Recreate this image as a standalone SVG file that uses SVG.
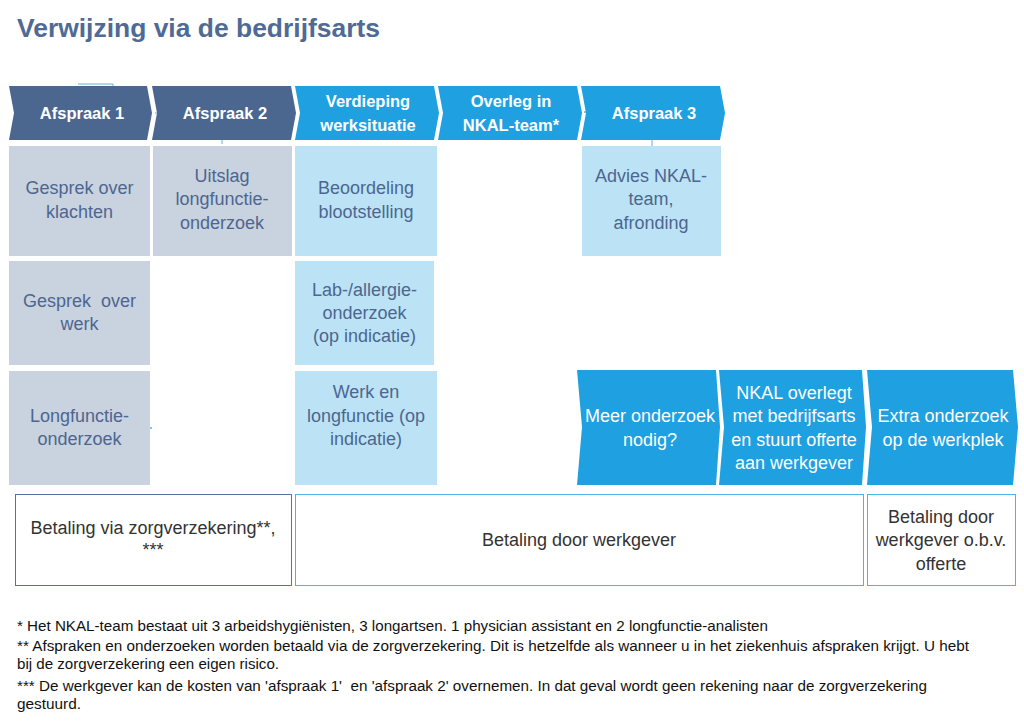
<svg xmlns="http://www.w3.org/2000/svg" width="1024" height="725" viewBox="0 0 1024 725">
<style>
.title{font-family:"Liberation Sans",Arial,sans-serif;font-weight:bold;font-size:26px;fill:#4f6a95}
.dark{fill:#4b6790}
.blue{fill:#1ea0e1}
.gray{fill:#c9d2df}
.light{fill:#bbe3f5}
.hd{font-family:"Liberation Sans",Arial,sans-serif;font-weight:bold;font-size:16.5px;fill:#ffffff;text-anchor:middle}
.bx{font-family:"Liberation Sans",Arial,sans-serif;font-size:18px;fill:#4d6690;text-anchor:middle}
.wt{font-family:"Liberation Sans",Arial,sans-serif;font-size:18px;fill:#ffffff;text-anchor:middle}
.pay{font-family:"Liberation Sans",Arial,sans-serif;font-size:18px;fill:#333333;text-anchor:middle}
.fn{font-family:"Liberation Sans",Arial,sans-serif;font-size:14px;fill:#111111}
.conn{fill:none;stroke:#5ab4e5;stroke-width:1}
</style>
<rect width="1024" height="725" fill="#ffffff"/>
<text class="title" x="17" y="37" textLength="363" lengthAdjust="spacingAndGlyphs">Verwijzing via de bedrijfsarts</text>

<g id="connectors">
<polyline class="conn" points="78,84 113,84 113,87"/>
<polyline class="conn" points="155,113 222,113 222,144"/>
<line class="conn" x1="652" y1="123" x2="652" y2="146"/>
<circle cx="585" cy="112" r="1" fill="#5ab4e5"/>
<circle cx="151" cy="428" r="1" fill="#5ab4e5"/>
</g>

<g id="afspraak1">
<polygon class="dark" points="9,86 147,86 152,113 147,140 9,140 14,113"/>
<text class="hd" x="82" y="119">Afspraak 1</text>
</g>
<g id="afspraak2">
<polygon class="dark" points="152,86 291,86 296,113 291,140 152,140 157,113"/>
<text class="hd" x="225" y="119">Afspraak 2</text>
</g>
<g id="verdieping">
<polygon class="blue" points="295,86 434,86 439,113 434,140 295,140 300,113"/>
<text class="hd" x="368" y="107">Verdieping</text>
<text class="hd" x="368" y="131">werksituatie</text>
</g>
<g id="overleg">
<polygon class="blue" points="438,86 577,86 582,113 577,140 438,140 443,113"/>
<text class="hd" x="511" y="107">Overleg in</text>
<text class="hd" x="511" y="131">NKAL-team*</text>
</g>
<g id="afspraak3">
<polygon class="blue" points="581,86 720,86 725,113 720,140 581,140 586,113"/>
<text class="hd" x="654" y="119">Afspraak 3</text>
</g>

<g id="gesprek-klachten">
<rect class="gray" x="9" y="146" width="141" height="110"/>
<text class="bx" x="79.5" y="194">Gesprek over</text>
<text class="bx" x="79.5" y="218">klachten</text>
</g>
<g id="uitslag">
<rect class="gray" x="153" y="146" width="139" height="110"/>
<text class="bx" x="222" y="182">Uitslag</text>
<text class="bx" x="222" y="205">longfunctie-</text>
<text class="bx" x="222" y="229">onderzoek</text>
</g>
<g id="beoordeling">
<rect class="light" x="295" y="146" width="142" height="110"/>
<text class="bx" x="366" y="194">Beoordeling</text>
<text class="bx" x="366" y="218">blootstelling</text>
</g>
<g id="advies">
<rect class="light" x="582" y="146" width="139" height="110"/>
<text class="bx" x="651" y="182">Advies NKAL-</text>
<text class="bx" x="651" y="205">team,</text>
<text class="bx" x="651" y="229">afronding</text>
</g>

<g id="gesprek-werk">
<rect class="gray" x="9" y="261" width="141" height="104"/>
<text class="bx" x="79.5" y="307" xml:space="preserve">Gesprek  over</text>
<text class="bx" x="79.5" y="330">werk</text>
</g>
<g id="lab">
<rect class="light" x="295" y="261" width="139" height="104"/>
<text class="bx" x="364.5" y="296">Lab-/allergie-</text>
<text class="bx" x="364.5" y="319">onderzoek</text>
<text class="bx" x="364.5" y="342">(op indicatie)</text>
</g>

<g id="longfunctie">
<rect class="gray" x="9" y="371" width="141" height="114"/>
<text class="bx" x="79.5" y="422">Longfunctie-</text>
<text class="bx" x="79.5" y="445">onderzoek</text>
</g>
<g id="werk-longfunctie">
<rect class="light" x="295" y="371" width="142" height="114"/>
<text class="bx" x="366" y="398">Werk en</text>
<text class="bx" x="366" y="422">longfunctie (op</text>
<text class="bx" x="366" y="445">indicatie)</text>
</g>

<g id="meer-onderzoek">
<polygon class="blue" points="577,370 716,370 720,427 716,485 577,485 582,427"/>
<text class="wt" x="650" y="422">Meer onderzoek</text>
<text class="wt" x="650" y="446">nodig?</text>
</g>
<g id="nkal-overlegt">
<polygon class="blue" points="719,370 862,370 866,427 862,485 719,485 724,427"/>
<text class="wt" x="794" y="399">NKAL overlegt</text>
<text class="wt" x="794" y="422">met bedrijfsarts</text>
<text class="wt" x="794" y="446">en stuurt offerte</text>
<text class="wt" x="794" y="469">aan werkgever</text>
</g>
<g id="extra-onderzoek">
<polygon class="blue" points="867,370 1013,370 1018,427 1013,485 867,485 872,427"/>
<text class="wt" x="943" y="422">Extra onderzoek</text>
<text class="wt" x="943" y="446">op de werkplek</text>
</g>

<g id="betaling-zorg">
<rect x="15.5" y="494.5" width="276" height="91" fill="#ffffff" stroke="#5b719a" stroke-width="1"/>
<text class="pay" x="153" y="534">Betaling via zorgverzekering**,</text>
<text class="pay" x="153" y="556">***</text>
</g>
<g id="betaling-werkgever">
<rect x="295.5" y="494.5" width="568" height="91" fill="#ffffff" stroke="#4fb3e8" stroke-width="1"/>
<text class="pay" x="579" y="546">Betaling door werkgever</text>
</g>
<g id="betaling-offerte">
<rect x="867.5" y="494.5" width="148" height="91" fill="#ffffff" stroke="#4fb3e8" stroke-width="1"/>
<text class="pay" x="941" y="523">Betaling door</text>
<text class="pay" x="941" y="546">werkgever o.b.v.</text>
<text class="pay" x="941" y="570">offerte</text>
</g>

<g id="footnotes">
<text class="fn" x="17" y="631" textLength="751" lengthAdjust="spacingAndGlyphs">* Het NKAL-team bestaat uit 3 arbeidshygiënisten, 3 longartsen. 1 physician assistant en 2 longfunctie-analisten</text>
<text class="fn" x="17" y="651" textLength="952" lengthAdjust="spacingAndGlyphs">** Afspraken en onderzoeken worden betaald via de zorgverzekering. Dit is hetzelfde als wanneer u in het ziekenhuis afspraken krijgt. U hebt</text>
<text class="fn" x="17" y="669" textLength="262" lengthAdjust="spacingAndGlyphs">bij de zorgverzekering een eigen risico.</text>
<text class="fn" x="17" y="691" textLength="910" lengthAdjust="spacingAndGlyphs" xml:space="preserve">*** De werkgever kan de kosten van 'afspraak 1'  en 'afspraak 2' overnemen. In dat geval wordt geen rekening naar de zorgverzekering</text>
<text class="fn" x="17" y="709" textLength="64" lengthAdjust="spacingAndGlyphs">gestuurd.</text>
</g>
</svg>
